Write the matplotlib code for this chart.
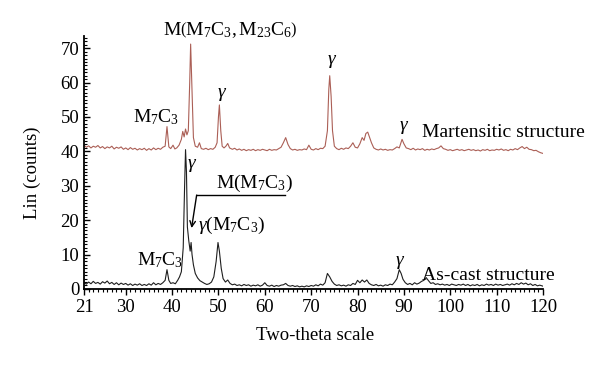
import matplotlib
matplotlib.use("Agg")
import matplotlib.pyplot as plt
from matplotlib.ticker import MultipleLocator

plt.rcParams['font.family'] = ['Liberation Serif', 'DejaVu Serif']
plt.rcParams['mathtext.fontset'] = 'custom'
plt.rcParams['mathtext.rm'] = 'Liberation Serif'
plt.rcParams['mathtext.it'] = 'Liberation Serif:italic'

# Martensitic structure pattern: (two-theta, counts)
mart_points = [
    (21, 41.8), (21.5, 41.2), (22, 41.6), (22.5, 41.0), (23, 41.5), (23.5, 41.2),
    (24, 41.7), (24.5, 41.0), (25, 41.4), (25.5, 40.8), (26, 41.3), (26.5, 41.0),
    (27, 41.5), (27.5, 40.7), (28, 41.2), (28.5, 40.9), (29, 41.3), (29.5, 40.6),
    (30, 41.0), (30.5, 40.5), (31, 41.1), (31.5, 40.6), (32, 40.9), (32.5, 40.4),
    (33, 40.8), (33.5, 40.5), (34, 40.9), (34.5, 40.3), (35, 40.8), (35.5, 40.4),
    (36, 41.0), (36.5, 40.5), (37, 40.9), (37.5, 40.6), (38, 41.2), (38.5, 41.5),
    (38.9, 47.2), (39.3, 41.3), (39.7, 40.8), (40.2, 41.8), (40.6, 40.7), (41.0, 41.0),
    (41.5, 41.8), (42.0, 43.5), (42.3, 45.8), (42.6, 44.2), (42.9, 46.5), (43.2, 44.8),
    (43.5, 46.0), (43.8, 60.0), (44.0, 71.2), (44.3, 58.0), (44.6, 44.0), (45.0, 41.5),
    (45.5, 41.2), (45.9, 42.5), (46.3, 40.8), (46.8, 40.6), (47.3, 40.9), (47.8, 40.5),
    (48.3, 40.8), (48.8, 40.6), (49.3, 41.2), (49.7, 42.5), (50.0, 50.0), (50.2, 53.5),
    (50.5, 46.0), (50.8, 41.5), (51.2, 41.0), (51.6, 41.5), (52.0, 42.3), (52.4, 41.0),
    (53, 40.6), (53.5, 40.9), (54, 40.4), (54.5, 40.7), (55, 40.3), (55.5, 40.6),
    (56, 40.2), (56.5, 40.5), (57, 40.3), (57.5, 40.6), (58, 40.2), (58.5, 40.5),
    (59, 40.3), (59.5, 40.6), (60, 40.4), (60.5, 40.2), (61, 40.6), (61.5, 40.3),
    (62, 40.5), (62.5, 40.4), (63, 40.8), (63.5, 41.2), (64, 42.5), (64.5, 44.0),
    (65, 42.0), (65.5, 40.8), (66, 40.4), (66.5, 40.6), (67, 40.3), (67.5, 40.5),
    (68, 40.4), (68.5, 40.7), (69, 40.5), (69.5, 41.8), (70, 40.6), (70.5, 40.4),
    (71, 40.8), (71.5, 40.5), (72, 40.9), (72.5, 40.8), (73, 41.5), (73.5, 46.0),
    (73.8, 58.0), (74.0, 62.0), (74.3, 56.0), (74.6, 46.0), (75, 41.5), (75.5, 40.8),
    (76, 40.5), (76.5, 40.9), (77, 40.6), (77.5, 41.0), (78, 40.8), (78.5, 41.5),
    (79, 42.5), (79.5, 41.2), (80, 41.0), (80.5, 42.2), (81, 44.0), (81.4, 43.2),
    (81.8, 45.2), (82.2, 45.6), (82.6, 44.0), (83, 42.5), (83.5, 41.0), (84, 40.6),
    (84.5, 40.4), (85, 40.7), (85.5, 40.4), (86, 40.6), (86.5, 40.3), (87, 40.5),
    (87.5, 40.4), (88, 40.8), (88.5, 41.3), (89, 41.0), (89.6, 43.5), (90, 42.2),
    (90.5, 41.0), (91, 40.8), (91.5, 40.5), (92, 40.9), (92.5, 40.4), (93, 40.7),
    (93.5, 40.5), (94, 40.8), (94.5, 40.3), (95, 40.6), (95.5, 40.4), (96, 40.7),
    (96.5, 40.5), (97, 40.8), (97.5, 41.0), (98, 41.6), (98.5, 40.8), (99, 40.6),
    (99.5, 40.3), (100, 40.5), (100.5, 40.2), (101, 40.4), (101.5, 40.6), (102, 40.3),
    (102.5, 40.5), (103, 40.2), (103.5, 40.4), (104, 40.6), (104.5, 40.3), (105, 40.5),
    (105.5, 40.2), (106, 40.4), (106.5, 40.1), (107, 40.5), (107.5, 40.3), (108, 40.6),
    (108.5, 40.2), (109, 40.4), (109.5, 40.3), (110, 40.6), (110.5, 40.4), (111, 40.7),
    (111.5, 40.3), (112, 40.5), (112.5, 40.2), (113, 40.6), (113.5, 40.4), (114, 40.8),
    (114.5, 40.5), (115, 41.0), (115.5, 41.4), (116, 40.8), (116.5, 41.2), (117, 40.6),
    (117.5, 40.5), (118, 40.2), (118.5, 40.3), (119, 39.9), (119.5, 39.6), (120, 39.4),
]

# As-cast structure pattern: (two-theta, counts)
cast_points = [
    (21, 1.8), (21.5, 1.4), (22, 2.0), (22.5, 1.5), (23, 2.2), (23.5, 1.6),
    (24, 1.9), (24.5, 1.4), (25, 2.1), (25.5, 1.7), (26, 2.3), (26.5, 1.5),
    (27, 1.9), (27.5, 1.3), (28, 1.8), (28.5, 1.2), (29, 1.7), (29.5, 1.3),
    (30, 1.6), (30.5, 1.1), (31, 1.5), (31.5, 1.0), (32, 1.4), (32.5, 1.1),
    (33, 1.5), (33.5, 1.0), (34, 1.3), (34.5, 1.0), (35, 1.5), (35.5, 1.1),
    (36, 1.8), (36.5, 1.2), (37, 1.6), (37.5, 1.3), (38, 1.8), (38.5, 2.5),
    (38.9, 5.6), (39.3, 2.5), (39.7, 1.6), (40.2, 1.8), (40.7, 1.5), (41.2, 2.5),
    (41.6, 3.5), (42.0, 5.0), (42.4, 12.0), (42.7, 30.0), (42.9, 40.5), (43.1, 34.0),
    (43.3, 18.0), (43.6, 14.0), (43.9, 11.0), (44.1, 13.5), (44.3, 10.0), (44.6, 7.0),
    (45.0, 4.5), (45.5, 3.2), (46, 2.4), (46.5, 2.0), (47, 1.6), (47.5, 1.3),
    (48, 1.5), (48.5, 2.0), (49, 3.5), (49.5, 8.0), (49.9, 13.5), (50.2, 11.0),
    (50.6, 6.0), (51, 3.0), (51.5, 2.0), (52, 2.6), (52.5, 1.6), (53, 1.2),
    (53.5, 1.4), (54, 1.0), (54.5, 1.2), (55, 0.9), (55.5, 1.3), (56, 1.0),
    (56.5, 1.2), (57, 0.8), (57.5, 1.1), (58, 0.9), (58.5, 1.2), (59, 0.8),
    (59.5, 1.1), (60, 1.8), (60.5, 1.0), (61, 0.8), (61.5, 1.1), (62, 0.7),
    (62.5, 1.0), (63, 0.8), (63.5, 1.1), (64, 1.2), (64.5, 1.6), (65, 1.0),
    (65.5, 0.8), (66, 1.0), (66.5, 0.7), (67, 0.9), (67.5, 0.6), (68, 0.8),
    (68.5, 0.6), (69, 0.9), (69.5, 0.7), (70, 1.0), (70.5, 0.8), (71, 1.2),
    (71.5, 0.9), (72, 1.4), (72.5, 1.1), (73, 1.8), (73.5, 4.5), (74, 3.5),
    (74.5, 2.2), (75, 1.4), (75.5, 1.0), (76, 1.2), (76.5, 0.9), (77, 1.1),
    (77.5, 0.8), (78, 1.2), (78.5, 1.0), (79, 1.6), (79.5, 1.3), (80, 2.5),
    (80.5, 1.8), (81, 2.6), (81.5, 2.0), (82, 2.6), (82.5, 1.6), (83, 1.2),
    (83.5, 1.0), (84, 1.3), (84.5, 0.9), (85, 1.1), (85.5, 0.8), (86, 1.2),
    (86.5, 1.0), (87, 1.4), (87.5, 1.2), (88, 2.0), (88.5, 3.0), (89, 5.6),
    (89.4, 4.5), (89.8, 2.8), (90.3, 1.8), (90.8, 1.3), (91.3, 1.6), (91.8, 1.2),
    (92.3, 1.8), (92.8, 1.4), (93.3, 1.7), (93.8, 2.2), (94.3, 2.5), (94.8, 3.3),
    (95.3, 2.4), (95.8, 1.6), (96.3, 1.8), (96.8, 1.3), (97.3, 1.5), (97.8, 1.2),
    (98.3, 1.4), (98.8, 1.1), (99.3, 1.3), (99.8, 1.0), (100.3, 1.4), (100.8, 1.2),
    (101.3, 1.0), (101.8, 1.3), (102.3, 1.1), (102.8, 1.4), (103.3, 1.0), (103.8, 1.3),
    (104.3, 0.9), (104.8, 1.2), (105.3, 1.0), (105.8, 1.3), (106.3, 0.9), (106.8, 1.2),
    (107.3, 1.0), (107.8, 1.4), (108.3, 1.1), (108.8, 1.3), (109.3, 1.0), (109.8, 1.4),
    (110.3, 1.1), (110.8, 1.3), (111.3, 1.0), (111.8, 1.2), (112.3, 1.4), (112.8, 1.1),
    (113.3, 1.5), (113.8, 1.2), (114.3, 1.6), (114.8, 1.3), (115.3, 1.8), (115.8, 1.4),
    (116.3, 1.7), (116.8, 1.2), (117.3, 1.5), (117.8, 1.0), (118.3, 1.3), (118.8, 0.9),
    (119.3, 1.1), (120, 0.8),
]
mart_x = [p[0] for p in mart_points]
mart_y = [p[1] for p in mart_points]
cast_x = [p[0] for p in cast_points]
cast_y = [p[1] for p in cast_points]

x_ticks = [21, 30, 40, 50, 60, 70, 80, 90, 100, 110, 120]
y_ticks = [0, 10, 20, 30, 40, 50, 60, 70]

fig = plt.figure(figsize=(6.0, 3.69), dpi=100)
ax = fig.add_axes([0.14, 0.217, 0.765, 0.685])

ax.plot(mart_x, mart_y, color='#ab5f56', lw=0.8)
ax.plot(cast_x, cast_y, color='#1e1e1e', lw=0.8)

ax.set_xlim(21, 120)
ax.set_ylim(0, 73.5)
ax.set_xticks(x_ticks)
ax.set_yticks(y_ticks)
ax.xaxis.set_minor_locator(MultipleLocator(1))
ax.yaxis.set_minor_locator(MultipleLocator(1))
for s in ['top', 'right']:
    ax.spines[s].set_visible(False)
for s in ['left', 'bottom']:
    ax.spines[s].set_linewidth(1.3)
ax.tick_params(axis='both', which='major', labelsize=13.5, length=4, width=1.0)
ax.tick_params(axis='both', which='minor', length=2.5, width=0.8)
ax.tick_params(axis='y', which='both', direction='in')
ax.tick_params(axis='x', which='both', direction='out')

ax.set_xlabel('Two-theta scale', fontsize=13.5, va='center')
ax.xaxis.set_label_coords(0.503, -0.186)
ax.set_ylabel('Lin (counts)', fontsize=13.5, va='center')
ax.yaxis.set_label_coords(-0.113, 0.46)

fs = 14
ax.text(52.5, 75.2, r'M$\left(\mathrm{M_7C_3, M_{23}C_6}\right)$', fontsize=fs,
        ha='center', va='center', clip_on=False)
ax.text(36.6, 50.0, r'M$_7$C$_3$', fontsize=fs, ha='center', va='center')
ax.text(50.7, 56.4, r'$\mathit{\gamma}$', fontsize=fs, ha='center', va='center')
ax.text(74.4, 66.0, r'$\mathit{\gamma}$', fontsize=fs, ha='center', va='center')
ax.text(90.0, 46.8, r'$\mathit{\gamma}$', fontsize=fs, ha='center', va='center')
ax.text(93.9, 45.6, 'Martensitic structure', fontsize=fs, ha='left', va='center')

ax.text(44.2, 36.0, r'$\mathit{\gamma}$', fontsize=fs, ha='center', va='center')
ax.text(57.7, 30.8, r'M(M$_7$C$_3$)', fontsize=fs, ha='center', va='center')
ax.plot([64.4, 45.3], [27.3, 27.3], color='black', lw=1.0)
ax.annotate('', xy=(44.2, 17.7), xytext=(45.3, 27.3),
            arrowprops=dict(arrowstyle='->', color='black', lw=1.0, shrinkA=0, shrinkB=0))
ax.text(52.9, 18.6, r'$\mathit{\gamma}$(M$_7$C$_3$)', fontsize=fs, ha='center', va='center')
ax.text(37.5, 8.4, r'M$_7$C$_3$', fontsize=fs, ha='center', va='center')
ax.text(89.1, 7.6, r'$\mathit{\gamma}$', fontsize=fs, ha='center', va='center')
ax.text(93.9, 3.8, 'As-cast structure', fontsize=fs, ha='left', va='center')

fig.savefig('out.png', dpi=100, facecolor='white')
